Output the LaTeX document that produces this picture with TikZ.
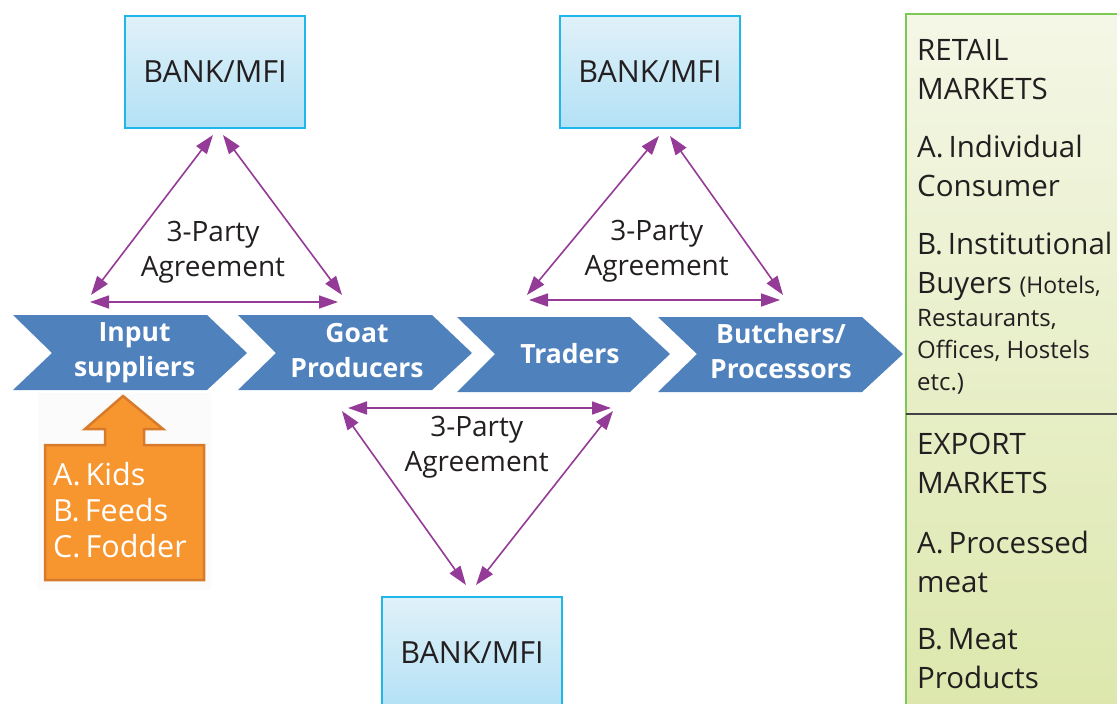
\documentclass[tikz,border=0pt]{standalone}
\usepackage{fontspec}
\setmainfont{Open Sans}
\usetikzlibrary{arrows.meta}
\definecolor{chev}{HTML}{4F81BD}
\definecolor{purp}{HTML}{943B97}
\definecolor{bankline}{HTML}{1FB6EA}
\definecolor{banktop}{HTML}{E0F1F9}
\definecolor{bankbot}{HTML}{B3E1F5}
\definecolor{orng}{HTML}{F7962F}
\definecolor{orngdark}{HTML}{D77A2C}
\definecolor{panline}{HTML}{7DC852}
\definecolor{pantop}{HTML}{F4F7E6}
\definecolor{panbot}{HTML}{DCE7AC}
\definecolor{ink}{HTML}{231F20}
\begin{document}
\begin{tikzpicture}[x=1pt,y=-1pt,
  agree/.style={draw=purp, line width=1.6pt,
    {Triangle[length=19pt,width=13pt]}-{Triangle[length=19pt,width=13pt]}},
  bankbox/.style={draw=bankline, line width=2pt, top color=banktop, bottom color=bankbot,
    minimum width=180pt, minimum height=112pt, inner sep=0pt,
    font=\fontsize{30.5}{34}\selectfont, text=ink},
  agreetext/.style={anchor=base, inner sep=0pt, align=center, text=ink,
    font=\fontsize{28}{35}\selectfont},
  chevtext/.style={anchor=base, inner sep=0pt, align=center, text=white,
    font=\bfseries\fontsize{26.5}{35}\selectfont},
  chevshape/.style={fill=chev},
  pantext/.style={anchor=base west, inner sep=0pt, align=left, text=ink,
    font=\fontsize{29.5}{38.5}\selectfont},
  smalltext/.style={anchor=base west, inner sep=0pt, align=left, text=ink,
    font=\fontsize{24}{32}\selectfont},
  orngtext/.style={anchor=base west, inner sep=0pt, align=left, text=white,
    font=\fontsize{30.5}{36}\selectfont}]
\useasboundingbox (0,0) rectangle (1117,704);
\clip (0,0) rectangle (1117,704);
\fill[white] (0,0) rectangle (1117,704);

% green market panel
\path[draw=panline, line width=2pt, top color=pantop, bottom color=panbot]
  (906,14) rectangle (1130,720);
\draw[ink!85, line width=1.6pt] (906,414) -- (1117,414);
\node[pantext] (retail) at (917,99) {RETAIL\\MARKETS};
\node[pantext] (indiv) at (917,196) {A.\,Individual\\Consumer};
\node[pantext] (inst) at (917,293) {B.\,Institutional\\Buyers {\fontsize{23}{32}\selectfont(Hotels,}};
\node[smalltext] (inst2) at (917,390) {Restaurants,\\Offices, Hostels\\etc.)};
\node[pantext] (export) at (917,493) {EXPORT\\MARKETS};
\node[pantext] (proc) at (917,592) {A.\,Processed\\meat};
\node[pantext] (meat) at (917,688) {B.\,Meat\\Products};

% chevrons
\path[chevshape] (13,315) -- (207,315) -- (247,353) -- (207,390) -- (13,390) -- (52,353) -- cycle;
\path[chevshape] (238,315) -- (432,315) -- (472,353) -- (432,390) -- (238,390) -- (276,353) -- cycle;
\path[chevshape] (457,317) -- (630,317) -- (670,354) -- (630,392) -- (457,392) -- (495,354) -- cycle;
\path[chevshape] (658,317) -- (862,317) -- (903,354) -- (862,392) -- (658,392) -- (697,354) -- cycle;
\node[chevtext] (input) at (134.6,376) {Input\\suppliers};
\node[chevtext] (goat) at (357,377) {Goat\\Producers};
\node[chevtext] (traders) at (570,363) {Traders};
\node[chevtext] (butch) at (781,378) {Butchers/\\Processors};

% orange inputs box
\fill[black!1.5] (38,393) rectangle (211,590);
\path[fill=orng, draw=orngdark, line width=2.5pt, line join=miter]
  (45,445) -- (105,445) -- (105,429) -- (85,429) -- (123,396) -- (163,429) -- (144,429)
  -- (144,445) -- (204,445) -- (204,580) -- (45,580) -- cycle;
\node[orngtext] (inputs) at (53,557) {A.\,Kids\\B.\,Feeds\\C.\,Fodder};

% banks
\node[bankbox] (bank1) at (215,72) {BANK/MFI};
\node[bankbox] (bank2) at (650,72) {BANK/MFI};
\node[bankbox] (bank3) at (472,653) {BANK/MFI};

% agreement triangle 1
\coordinate (t1a) at (213,135);
\coordinate (t1b) at (223,135);
\coordinate (t1l) at (91,295);
\coordinate (t1r) at (342,295);
\coordinate (t1hl) at (90,302);
\coordinate (t1hr) at (338,302);
\draw[agree] (t1l) -- (t1a);
\draw[agree] (t1b) -- (t1r);
\draw[agree] (t1hl) -- (t1hr);
\node[agreetext] (ag1) at (213,276.7) {3-Party\\Agreement};

% agreement triangle 2
\coordinate (t2a) at (659,136);
\coordinate (t2b) at (670,136);
\coordinate (t2l) at (527,295);
\coordinate (t2r) at (783,295);
\coordinate (t2hl) at (529,300);
\coordinate (t2hr) at (780,300);
\draw[agree] (t2l) -- (t2a);
\draw[agree] (t2b) -- (t2r);
\draw[agree] (t2hl) -- (t2hr);
\node[agreetext] (ag2) at (656.7,275) {3-Party\\Agreement};

% agreement triangle 3 (inverted)
\coordinate (t3l) at (342,411);
\coordinate (t3r) at (613,411);
\coordinate (t3hl) at (348,408);
\coordinate (t3hr) at (611,408);
\coordinate (t3a) at (466,585);
\coordinate (t3b) at (476,585);
\draw[agree] (t3l) -- (t3a);
\draw[agree] (t3r) -- (t3b);
\draw[agree] (t3hl) -- (t3hr);
\node[agreetext] (ag3) at (476.7,471.7) {3-Party\\Agreement};
\end{tikzpicture}
\end{document}
